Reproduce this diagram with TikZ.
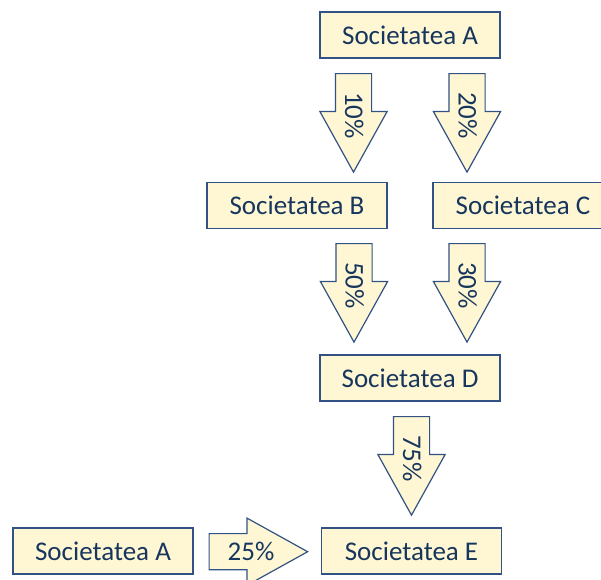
\documentclass[tikz,border=0pt]{standalone}
\usepackage{fontspec}
\setmainfont{Carlito}
\usetikzlibrary{positioning, shapes.arrows}
\definecolor{boxfill}{RGB}{255,247,212}
\definecolor{boxline}{RGB}{50,82,132}
\definecolor{boxtext}{RGB}{23,54,93}

\begin{document}
\begin{tikzpicture}[x=1pt, y=1pt,
  box/.style={draw=boxline, fill=boxfill, line width=1.2pt, text=boxtext,
    minimum width=180pt, minimum height=46pt, inner sep=0pt,
    font=\fontsize{27}{31}\selectfont},
  share/.style={single arrow, draw=boxline, fill=boxfill, line width=1.2pt,
    text=boxtext, font=\fontsize{27}{31}\selectfont,
    minimum width=66pt, minimum height=96pt, single arrow head extend=15.5pt,
    single arrow tip angle=58, inner sep=0pt, anchor=tail,
    text height=26pt, text depth=9pt, execute at begin node=\hspace*{18pt}},
  sharedown/.style={share, rotate=-90}]
\useasboundingbox (0,0) rectangle (601,-579);

\node (socA) [box] at (410,-35) {Societatea A};
\node (socB) [box] at (297,-205.5) {Societatea B};
\node (socC) [box] at (523,-205.5) {Societatea C};
\node (socD) [box] at (410,-378) {Societatea D};
\node (socE) [box] at (411.5,-551) {Societatea E};
\node (socA2) [box] at (103,-551) {Societatea A};

\node (pAB) [sharedown] at (353.5,-73) {10\%};
\node (pAC) [sharedown] at (467,-73) {20\%};
\node (pBD) [sharedown] at (354,-243) {50\%};
\node (pCD) [sharedown] at (467,-243) {30\%};
\node (pDE) [sharedown] at (411.5,-416) {75\%};
\node (pAE) [share] at (208.5,-551.7) {25\%};
\end{tikzpicture}
\end{document}
